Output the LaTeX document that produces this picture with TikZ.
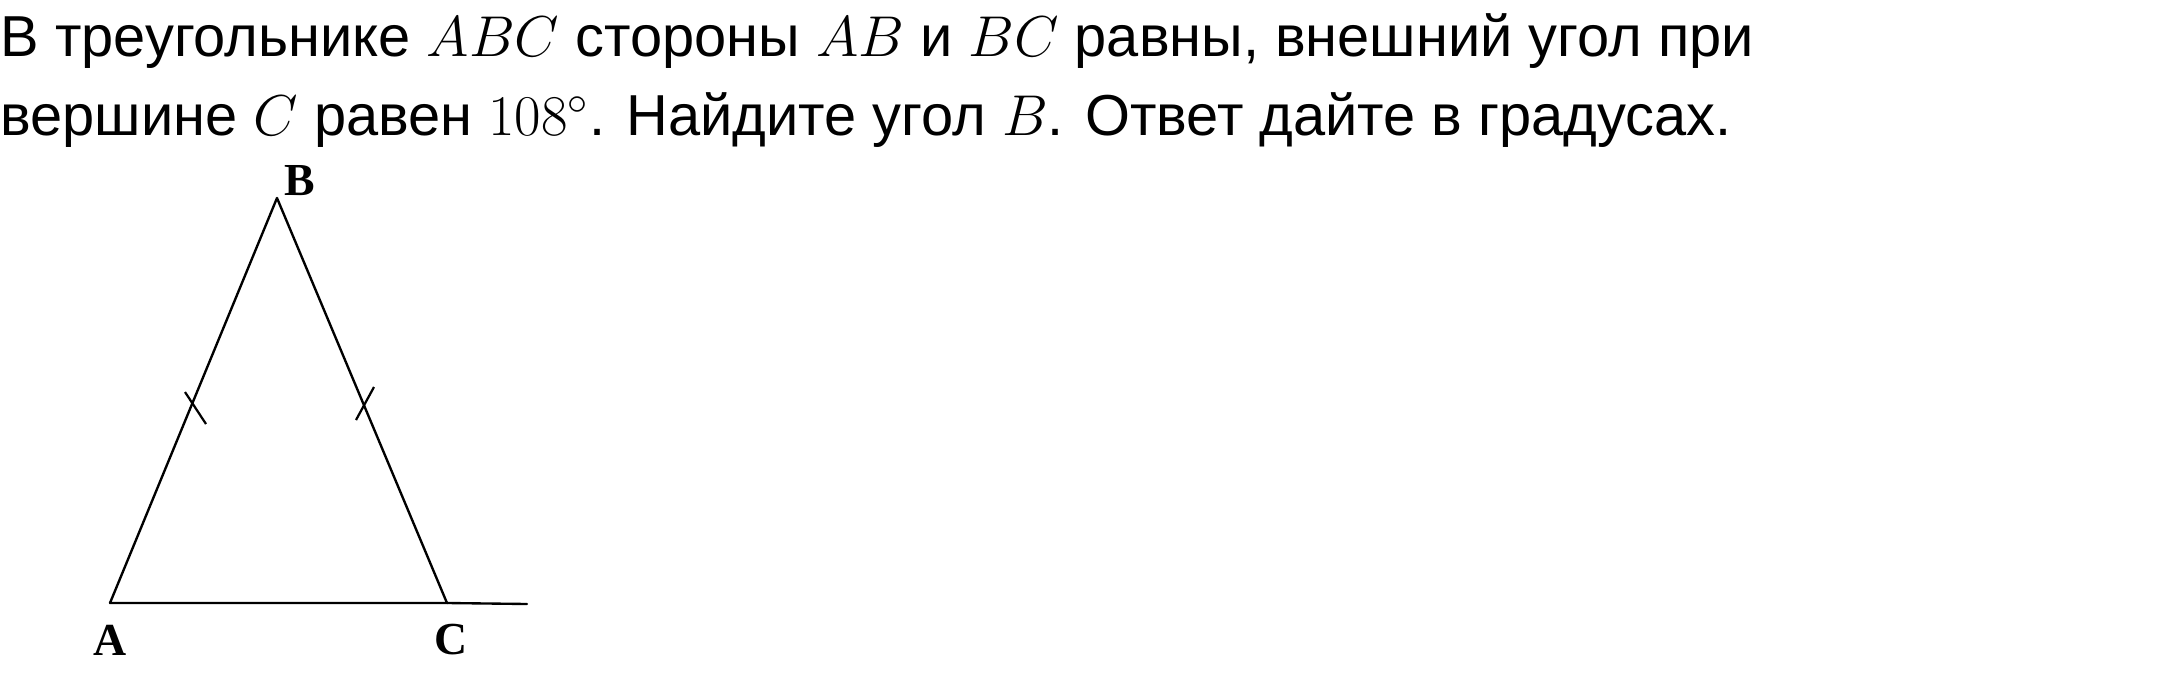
\documentclass[tikz,border=0pt]{standalone}
\usepackage{fontspec}
\setmainfont{Liberation Sans}
\newfontfamily\labelfont{Liberation Serif}
\begin{document}
\begin{tikzpicture}[x=0.36pt,y=-0.36pt,
  txt/.style={anchor=base west,inner sep=0pt,font=\fontsize{20.8}{25}\selectfont},
  vlabel/.style={inner sep=0pt,font=\labelfont\bfseries\fontsize{16.5}{20}\selectfont},
  edge/.style={line width=0.85pt,line cap=round,line join=round},
  tick/.style={line width=0.8pt}]
\useasboundingbox (0,0) rectangle (2180,685);
\node[txt] (l1) at (0,56) {В треугольнике $ABC$ стороны $AB$ и $BC$ равны, внешний угол при};
\node[txt] (l2) at (0,135) {вершине $C$ равен $108^{\circ}$. Найдите угол $B$. Ответ дайте в градусах.};
\coordinate (A) at (110,603);
\coordinate (B) at (277,198);
\coordinate (C) at (447,603);
\coordinate (E) at (527,604);
\draw[edge] (A) -- (B) -- (C);
\draw[edge] (A) -- (C) -- (E);
\coordinate (t1a) at (185,392);
\coordinate (t1b) at (206,424);
\coordinate (t2a) at (374,387);
\coordinate (t2b) at (356,420);
\draw[tick] (t1a) -- (t1b);
\draw[tick] (t2a) -- (t2b);
\node[vlabel] (lB) at (300,181) {B};
\node[vlabel] (lA) at (110,640) {A};
\node[vlabel] (lC) at (451,640) {C};
\end{tikzpicture}
\end{document}
